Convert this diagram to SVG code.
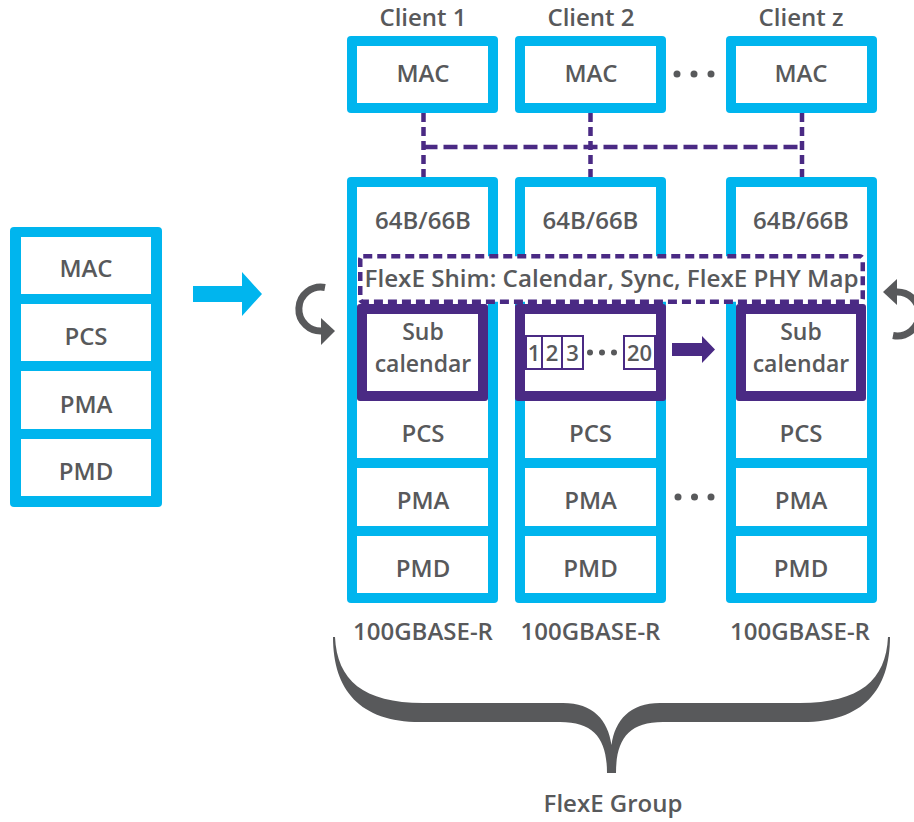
<svg xmlns="http://www.w3.org/2000/svg" width="914" height="822" viewBox="0 0 914 822">
  <style>
    .blue { fill: #00B5EE; }
    .white { fill: #FFFFFF; }
    .purple { fill: #4A2A84; }
    .gray { fill: #58595B; }
    .t { font-family: "Open Sans", "Noto Sans", sans-serif; font-weight: 600; font-size: 24px; fill: #58595B; text-anchor: middle; }
    .sub { font-size: 23px; }
    .num { font-family: "Open Sans", "Noto Sans", sans-serif; font-weight: 600; font-size: 22px; fill: #58595B; text-anchor: middle; }
    .dash-v { fill: none; stroke: #4A2A84; stroke-width: 4.5; stroke-dasharray: 9 5; }
    .dash-h { fill: none; stroke: #4A2A84; stroke-width: 4.5; stroke-dasharray: 14 6; }
    .slot { fill: #FFFFFF; stroke: #4A2A84; stroke-width: 2; }
    .turn { fill: none; stroke: #58595B; stroke-width: 7; }
  </style>

  <!-- Single-PHY stack -->
  <g id="single-phy">
    <rect class="blue" x="10" y="227" width="152" height="280" rx="4"/>
    <rect class="white" x="21" y="237" width="130" height="57"/>
    <rect class="white" x="21" y="304" width="130" height="57"/>
    <rect class="white" x="21" y="371" width="130" height="58"/>
    <rect class="white" x="21" y="439" width="130" height="57"/>
    <text class="t" x="86" y="277">MAC</text>
    <text class="t" x="86" y="345">PCS</text>
    <text class="t" x="86" y="413">PMA</text>
    <text class="t" x="86" y="480">PMD</text>
  </g>

  <!-- Transition arrow -->
  <g id="to-flexe">
    <polygon class="blue" points="193,286 242,286 242,272 262,294 242,316 242,302 193,302"/>
  </g>

  <!-- Client MACs -->
  <g id="client-1">
    <text class="t" x="423" y="26">Client 1</text>
    <rect class="blue" x="347" y="36" width="151" height="77" rx="4"/>
    <rect class="white" x="357" y="46" width="131" height="57"/>
    <text class="t" x="423" y="82">MAC</text>
  </g>
  <g id="client-2">
    <text class="t" x="591" y="26">Client 2</text>
    <rect class="blue" x="515" y="36" width="151" height="77" rx="4"/>
    <rect class="white" x="525" y="46" width="131" height="57"/>
    <text class="t" x="591" y="82">MAC</text>
  </g>
  <g id="client-z">
    <text class="t" x="801" y="26">Client z</text>
    <rect class="blue" x="726" y="36" width="151" height="77" rx="4"/>
    <rect class="white" x="736" y="46" width="131" height="57"/>
    <text class="t" x="801" y="82">MAC</text>
  </g>
  <g id="client-ellipsis" class="gray">
    <circle cx="677" cy="74" r="3.5"/>
    <circle cx="694" cy="74" r="3.5"/>
    <circle cx="711" cy="74" r="3.5"/>
  </g>

  <!-- Client-to-PHY mapping -->
  <g id="connectors">
    <line class="dash-v" x1="423.5" y1="113" x2="423.5" y2="177"/>
    <line class="dash-v" x1="590.5" y1="113" x2="590.5" y2="177"/>
    <line class="dash-v" x1="802" y1="113" x2="802" y2="177"/>
    <line class="dash-h" x1="423.5" y1="147" x2="802" y2="147"/>
  </g>

  <!-- PHY columns -->
  <g id="phy-1">
    <rect class="blue" x="347" y="177" width="151" height="426" rx="4"/>
    <rect class="white" x="357" y="187" width="131" height="271"/>
    <rect class="white" x="357" y="468" width="131" height="58"/>
    <rect class="white" x="357" y="536" width="131" height="57"/>
    <text class="t" x="423" y="229">64B/66B</text>
    <text class="t" x="423" y="442">PCS</text>
    <text class="t" x="423" y="509">PMA</text>
    <text class="t" x="423" y="577">PMD</text>
    <text class="t" x="423" y="640">100GBASE-R</text>
  </g>
  <g id="phy-2">
    <rect class="blue" x="515" y="177" width="151" height="426" rx="4"/>
    <rect class="white" x="525" y="187" width="131" height="271"/>
    <rect class="white" x="525" y="468" width="131" height="58"/>
    <rect class="white" x="525" y="536" width="131" height="57"/>
    <text class="t" x="590.5" y="229">64B/66B</text>
    <text class="t" x="590.5" y="442">PCS</text>
    <text class="t" x="590.5" y="509">PMA</text>
    <text class="t" x="590.5" y="577">PMD</text>
    <text class="t" x="590.5" y="640">100GBASE-R</text>
  </g>
  <g id="phy-z">
    <rect class="blue" x="726" y="177" width="151" height="426" rx="4"/>
    <rect class="white" x="736" y="187" width="131" height="271"/>
    <rect class="white" x="736" y="468" width="131" height="58"/>
    <rect class="white" x="736" y="536" width="131" height="57"/>
    <text class="t" x="801" y="229">64B/66B</text>
    <text class="t" x="801" y="442">PCS</text>
    <text class="t" x="801" y="509">PMA</text>
    <text class="t" x="801" y="577">PMD</text>
    <text class="t" x="800" y="640">100GBASE-R</text>
  </g>
  <g id="phy-ellipsis" class="gray">
    <circle cx="678" cy="497" r="3.5"/>
    <circle cx="694.5" cy="497" r="3.5"/>
    <circle cx="711" cy="497" r="3.5"/>
  </g>

  <!-- FlexE shim layer -->
  <g id="flexe-shim">
    <rect x="360.25" y="256.25" width="502.5" height="45.5" rx="3" fill="#FFFFFF" stroke="#4A2A84" stroke-width="4.5" stroke-dasharray="9 5"/>
    <text class="t" x="611.5" y="287" textLength="494" lengthAdjust="spacingAndGlyphs">FlexE Shim: Calendar, Sync, FlexE PHY Map</text>
  </g>

  <!-- Sub-calendars -->
  <g id="subcal-1">
    <rect class="purple" x="357" y="304" width="131" height="97" rx="3"/>
    <rect class="white" x="367" y="314" width="111" height="77"/>
    <text class="t sub" x="423" y="340">Sub<tspan x="423" dy="32">calendar</tspan></text>
  </g>
  <g id="subcal-2">
    <rect class="purple" x="515" y="304" width="151" height="97" rx="3"/>
    <rect class="white" x="525" y="314" width="131" height="77"/>
    <rect class="slot" x="526" y="336" width="16" height="33"/>
    <rect class="slot" x="542" y="336" width="20" height="33"/>
    <rect class="slot" x="562" y="336" width="21" height="33"/>
    <rect class="slot" x="624" y="336" width="31" height="33"/>
    <text class="num" x="534" y="361">1</text>
    <text class="num" x="552" y="361">2</text>
    <text class="num" x="572.5" y="361">3</text>
    <text class="num" x="639.5" y="361">20</text>
    <circle class="gray" cx="590" cy="352.5" r="3"/>
    <circle class="gray" cx="602" cy="352.5" r="3"/>
    <circle class="gray" cx="614" cy="352.5" r="3"/>
  </g>
  <g id="subcal-z">
    <rect class="purple" x="736" y="304" width="130" height="97" rx="3"/>
    <rect class="white" x="746" y="314" width="110" height="77"/>
    <text class="t sub" x="801" y="340">Sub<tspan x="801" dy="32">calendar</tspan></text>
  </g>
  <g id="subcal-arrow">
    <polygon class="purple" points="672,343 702,343 702,336 715,349.5 702,363 702,356 672,356"/>
  </g>

  <!-- Rotation indicators -->
  <g id="rotate-left">
    <path class="turn" d="M 325 287.5 A 22 22 0 1 0 323 331"/>
    <polygon class="gray" points="321,318 335,331 321,345"/>
  </g>
  <g id="rotate-right">
    <path class="turn" d="M 893 335.5 A 22 22 0 1 0 895 292"/>
    <polygon class="gray" points="897,279 883,292 897,305"/>
  </g>

  <!-- FlexE group brace -->
  <g id="flexe-group">
    <path class="gray" d="M 333 637 C 333 690 360 722 420 722 L 560 722 C 595 722 607 740 607 773 L 616 773 C 616 740 628 722 663 722 L 803 722 C 863 722 890 690 890 637 L 888 637 C 886 680 860 703 800 703 L 660 703 C 630 703 615 720 611.5 745 C 608 720 593 703 563 703 L 423 703 C 363 703 337 680 335 637 Z"/>
    <text class="t" x="613" y="812">FlexE Group</text>
  </g>
</svg>
